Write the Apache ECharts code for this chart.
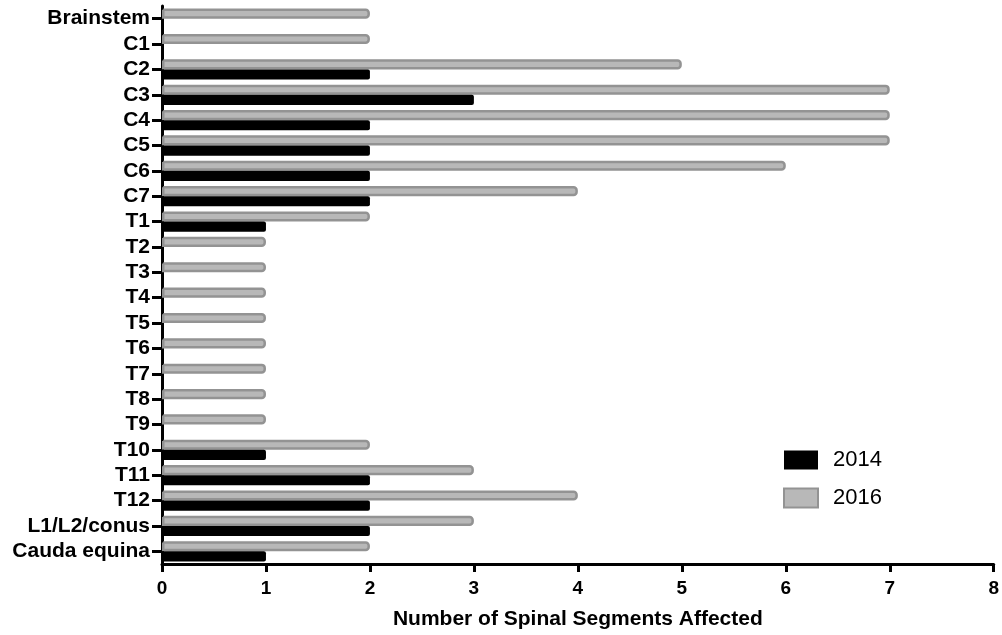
<!DOCTYPE html>
<html>
<head>
<meta charset="utf-8">
<script src="https://cdn.jsdelivr.net/npm/echarts@6/dist/echarts.min.js"></script>
<style>
  html, body { margin: 0; padding: 0; background: #fff; }
  #chart { width: 1002px; height: 635px; }
</style>
</head>
<body>
<div id="chart"></div>
<script>
// Spinal levels, top to bottom
const segments = ['Brainstem', 'C1', 'C2', 'C3', 'C4', 'C5', 'C6', 'C7', 'T1', 'T2', 'T3', 'T4',
    'T5', 'T6', 'T7', 'T8', 'T9', 'T10', 'T11', 'T12', 'L1/L2/conus', 'Cauda equina'];
const values2014 = [0, 0, 2, 3, 2, 2, 2, 2, 1, 0, 0, 0, 0, 0, 0, 0, 0, 1, 2, 2, 2, 1];
const values2016 = [2, 2, 5, 7, 7, 7, 6, 4, 2, 1, 1, 1, 1, 1, 1, 1, 1, 2, 3, 4, 3, 2];
const xTicks = [0, 1, 2, 3, 4, 5, 6, 7, 8];

const chart = echarts.init(document.getElementById('chart'));

var option = {
    animation: false,
    textStyle: {
        fontFamily: 'Liberation Sans, Arial, sans-serif'
    },
    grid: {
        top: 6,
        bottom: 70,
        left: 162,
        right: 8
    },
    legend: {
        data: ['2014', '2016'],
        orient: 'vertical',
        left: 778,
        top: 444,
        icon: 'rect',
        itemWidth: 34,
        itemHeight: 19,
        itemGap: 16,
        textStyle: {
            fontSize: 22,
            color: '#000',
            padding: [0, 0, 0, 10]
        }
    },
    xAxis: {
        type: 'value',
        min: xTicks[0],
        max: xTicks[xTicks.length - 1],
        interval: 1,
        name: 'Number of Spinal Segments Affected',
        nameLocation: 'middle',
        nameGap: 45,
        nameTextStyle: {
            fontSize: 21,
            fontWeight: 'bold',
            color: '#000'
        },
        axisLine: { show: true, lineStyle: { color: '#000', width: 3 } },
        axisTick: { show: true, length: 8, lineStyle: { color: '#000', width: 3 } },
        axisLabel: { fontSize: 19, fontWeight: 'bold', color: '#000', margin: 15 },
        splitLine: { show: false }
    },
    yAxis: {
        type: 'category',
        inverse: true,
        data: segments,
        axisLine: { show: true, lineStyle: { color: '#000', width: 3 } },
        axisTick: { show: true, alignWithLabel: true, length: 10, lineStyle: { color: '#000', width: 3 } },
        axisLabel: { interval: 0, fontSize: 21, fontWeight: 'bold', color: '#000', margin: 12 }
    },
    series: [
        {
            name: '2016',
            type: 'bar',
            data: values2016,
            barGap: '0%',
            barCategoryGap: '20%',
            itemStyle: {
                color: '#b8b8b8',
                borderColor: '#939393',
                borderWidth: 2.5,
                borderRadius: [0, 3, 3, 0]
            }
        },
        {
            name: '2014',
            type: 'bar',
            data: values2014,
            barGap: '0%',
            barCategoryGap: '20%',
            itemStyle: {
                color: '#000',
                borderRadius: [0, 2, 2, 0]
            }
        }
    ]
};

chart.setOption(option);
</script>
</body>
</html>
